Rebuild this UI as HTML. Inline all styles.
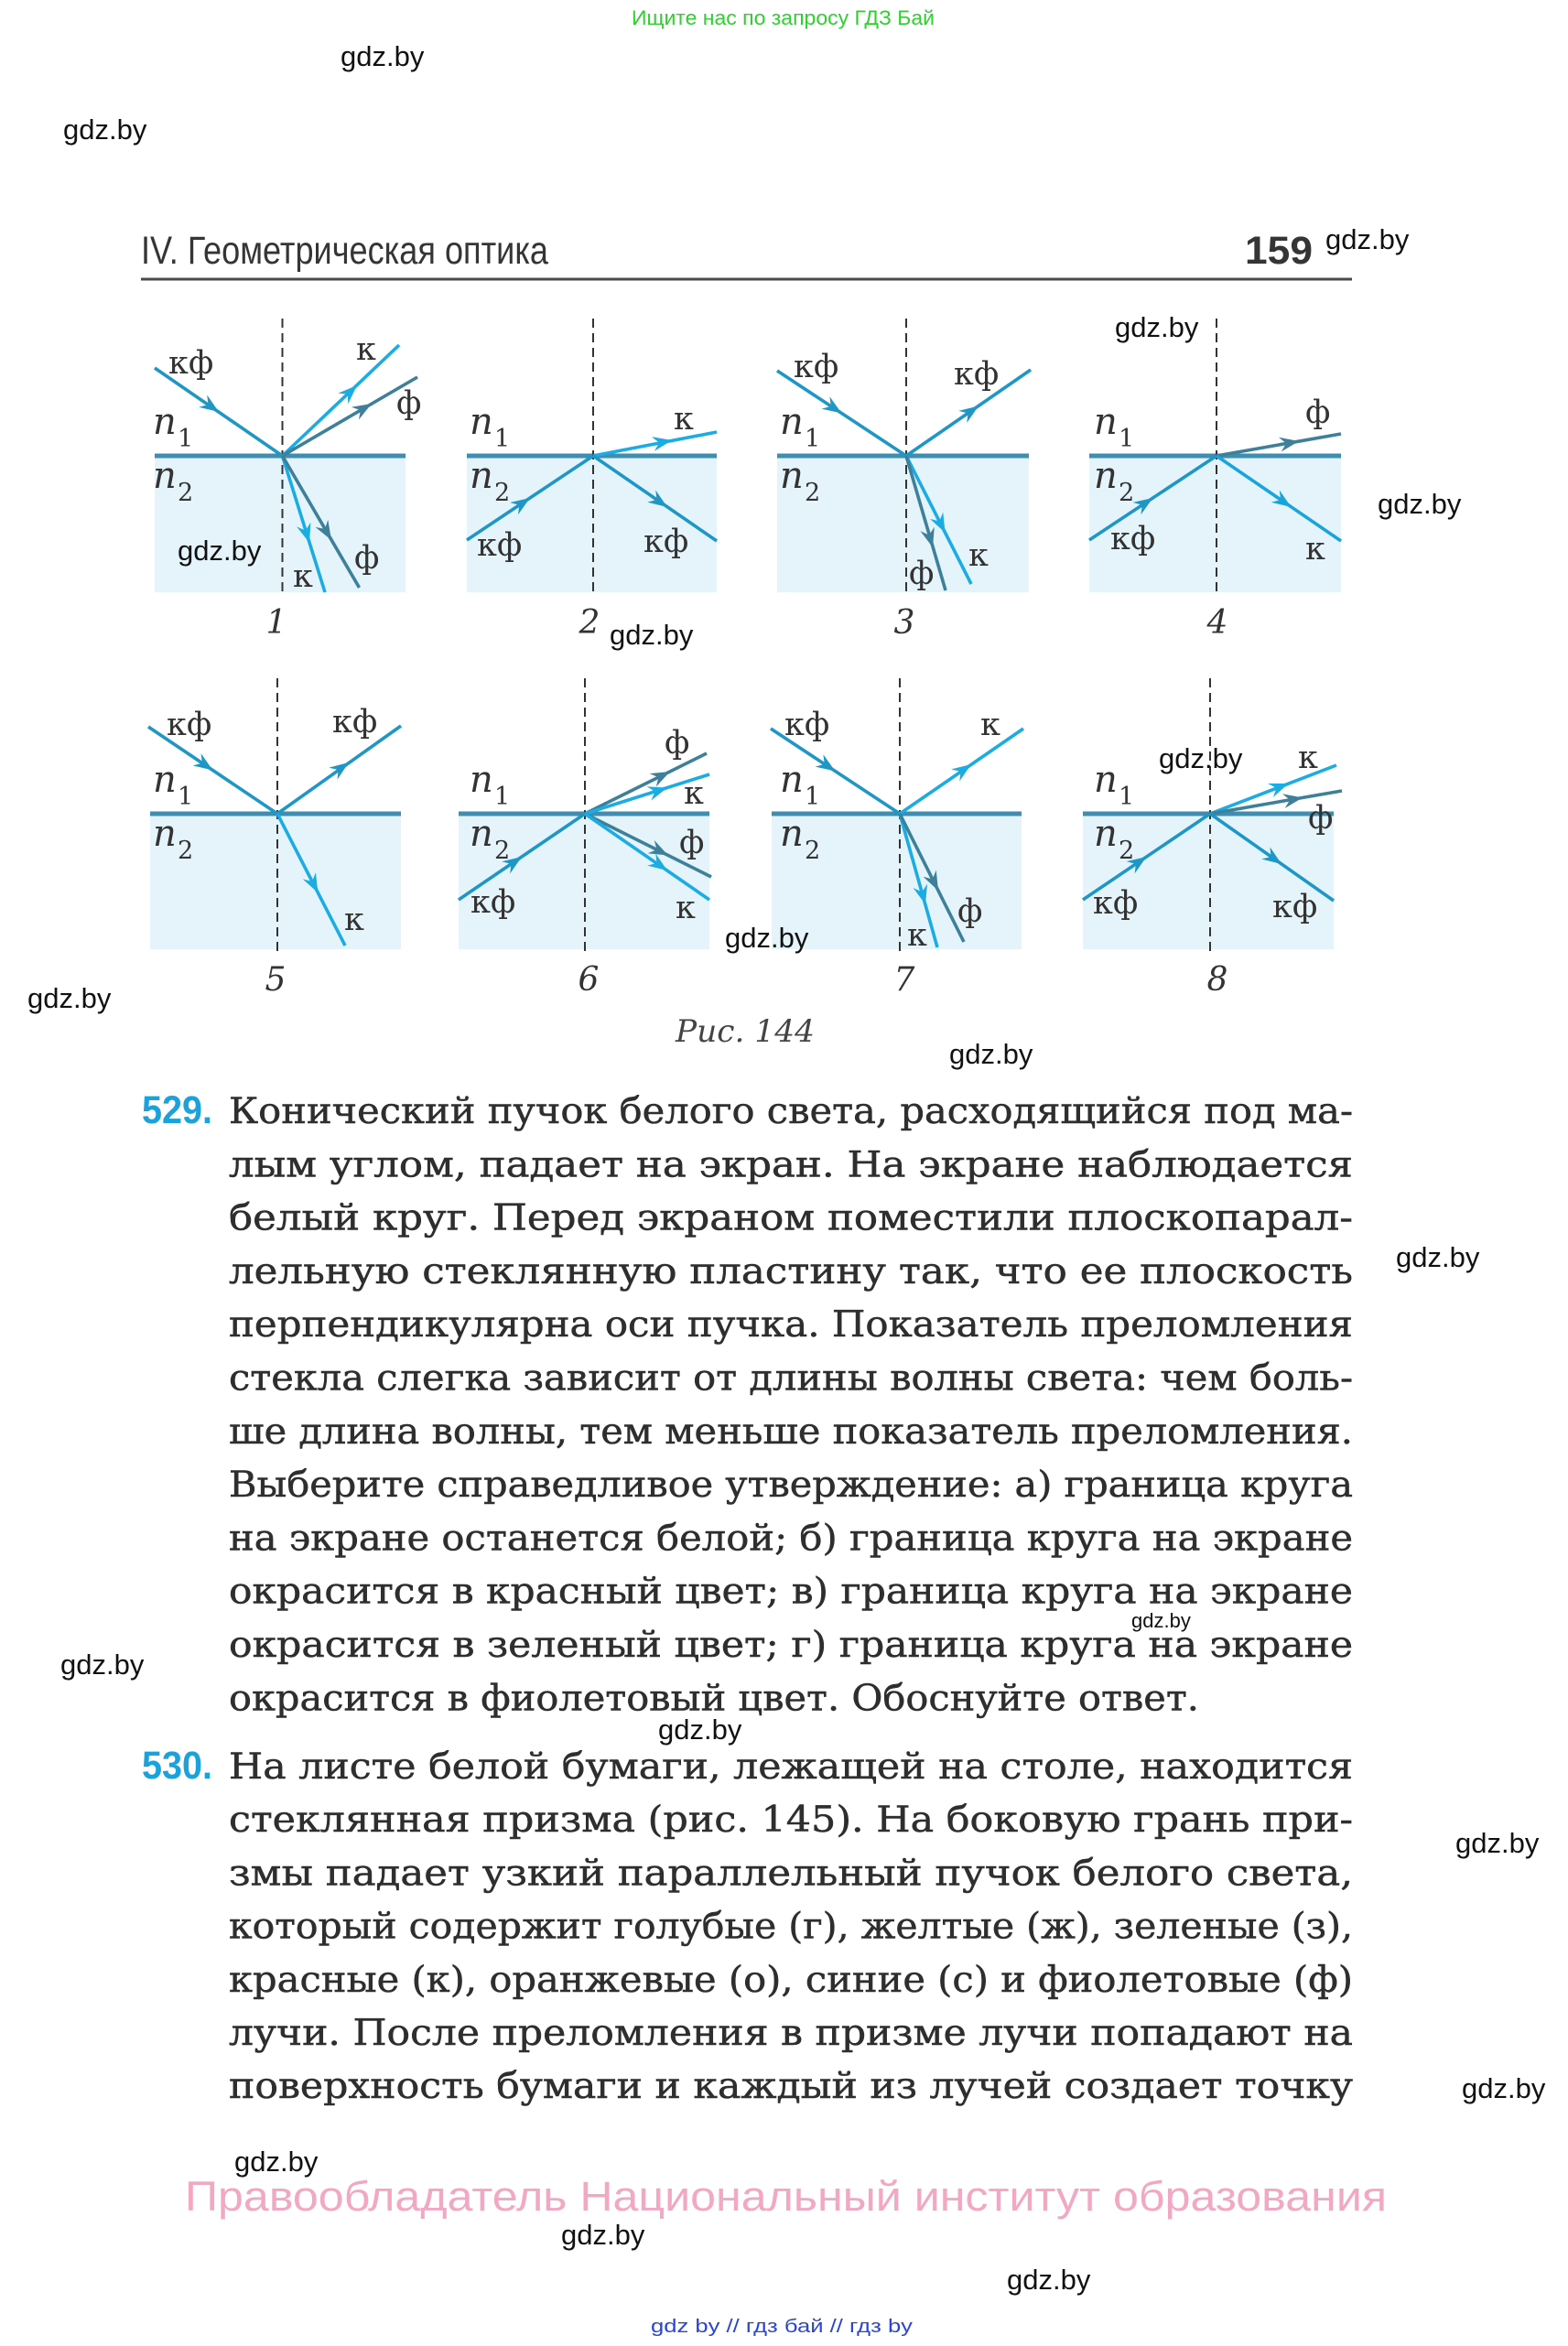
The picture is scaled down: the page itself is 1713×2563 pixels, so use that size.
<!DOCTYPE html>
<html lang="ru">
<head>
<meta charset="utf-8">
<title>IV. Геометрическая оптика — 159</title>
<style>
  html,body{margin:0;padding:0;background:#ffffff;}
  svg{display:block;}
</style>
</head>
<body>
<svg xmlns="http://www.w3.org/2000/svg" xmlns:xlink="http://www.w3.org/1999/xlink" width="1713" height="2563" viewBox="0 0 1713 2563">
  <defs>
    <path id="ah" d="M0,0 L-21,-8 L-14,0 L-21,8 Z"/>
  </defs>
  <rect x="0" y="0" width="1713" height="2563" fill="#ffffff"/>

  <!-- top green banner -->
  <text x="690" y="27" font-family="'Liberation Sans', sans-serif" font-size="22" fill="#2fd02f" textLength="331" lengthAdjust="spacingAndGlyphs">Ищите нас по запросу ГДЗ Бай</text>

  <!-- header -->
  <text x="154" y="288" font-family="'Liberation Sans', sans-serif" font-size="43" fill="#353535" textLength="445" lengthAdjust="spacingAndGlyphs">IV. Геометрическая оптика</text>
  <text x="1360" y="288" font-family="'Liberation Sans', sans-serif" font-size="43" font-weight="bold" fill="#353535" textLength="74" lengthAdjust="spacingAndGlyphs">159</text>
  <line x1="154" y1="305" x2="1477" y2="305" stroke="#4a4a4a" stroke-width="3"/>

  <!-- ============ DIAGRAMS ============ -->
  <g id="panels">
    <g fill="#e5f4fb">
      <rect x="169" y="498" width="274" height="149"/>
      <rect x="510" y="498" width="273" height="149"/>
      <rect x="849" y="498" width="275" height="149"/>
      <rect x="1190" y="498" width="275" height="149"/>
      <rect x="164" y="889" width="274" height="148"/>
      <rect x="501" y="889" width="274" height="148"/>
      <rect x="843" y="889" width="273" height="148"/>
      <rect x="1183" y="889" width="274" height="148"/>
    </g>
    <g stroke="#3f8db0" stroke-width="5">
      <line x1="169" y1="498" x2="443" y2="498"/>
      <line x1="510" y1="498" x2="783" y2="498"/>
      <line x1="849" y1="498" x2="1124" y2="498"/>
      <line x1="1190" y1="498" x2="1465" y2="498"/>
      <line x1="164" y1="889" x2="438" y2="889"/>
      <line x1="501" y1="889" x2="775" y2="889"/>
      <line x1="843" y1="889" x2="1116" y2="889"/>
      <line x1="1183" y1="889" x2="1457" y2="889"/>
    </g>
    <g stroke="#333333" stroke-width="2" stroke-dasharray="10 6">
      <line x1="308.5" y1="348" x2="308.5" y2="651"/>
      <line x1="648" y1="348" x2="648" y2="651"/>
      <line x1="990" y1="348" x2="990" y2="651"/>
      <line x1="1329" y1="348" x2="1329" y2="651"/>
      <line x1="303" y1="741" x2="303" y2="1043"/>
      <line x1="639" y1="741" x2="639" y2="1043"/>
      <line x1="983" y1="741" x2="983" y2="1043"/>
      <line x1="1322" y1="741" x2="1322" y2="1043"/>
    </g>

    <g stroke-width="3.6" fill="none">
      <line x1="169" y1="402" x2="308.5" y2="498" stroke="#1e97c7"/>
      <line x1="308.5" y1="498" x2="436" y2="377" stroke="#1aace3"/>
      <line x1="308.5" y1="498" x2="456" y2="412" stroke="#3e7f9a"/>
      <line x1="308.5" y1="498" x2="355" y2="647" stroke="#1aace3"/>
      <line x1="308.5" y1="498" x2="392.5" y2="642" stroke="#3e7f9a"/>
      <line x1="510" y1="590" x2="648" y2="498" stroke="#1e97c7"/>
      <line x1="648" y1="498" x2="783" y2="472" stroke="#1aace3"/>
      <line x1="648" y1="498" x2="783" y2="591" stroke="#1e97c7"/>
      <line x1="849" y1="405" x2="990" y2="498" stroke="#1e97c7"/>
      <line x1="990" y1="498" x2="1126" y2="404" stroke="#1e97c7"/>
      <line x1="990" y1="498" x2="1061" y2="638" stroke="#1aace3"/>
      <line x1="990" y1="498" x2="1033" y2="645" stroke="#3e7f9a"/>
      <line x1="1190" y1="590" x2="1329" y2="498" stroke="#1e97c7"/>
      <line x1="1329" y1="498" x2="1465" y2="474" stroke="#3e7f9a"/>
      <line x1="1329" y1="498" x2="1465" y2="591" stroke="#1aa4dc"/>
      <line x1="162" y1="794" x2="303" y2="889" stroke="#1e97c7"/>
      <line x1="303" y1="889" x2="438" y2="793" stroke="#1e97c7"/>
      <line x1="303" y1="889" x2="377" y2="1033" stroke="#1aace3"/>
      <line x1="501" y1="983" x2="639" y2="889" stroke="#1e97c7"/>
      <line x1="639" y1="889" x2="772" y2="823" stroke="#3e7f9a"/>
      <line x1="639" y1="889" x2="775" y2="846" stroke="#1aace3"/>
      <line x1="639" y1="889" x2="777" y2="958" stroke="#3e7f9a"/>
      <line x1="639" y1="889" x2="775" y2="983" stroke="#1aace3"/>
      <line x1="842" y1="796" x2="983" y2="889" stroke="#1e97c7"/>
      <line x1="983" y1="889" x2="1118" y2="796" stroke="#1aace3"/>
      <line x1="983" y1="889" x2="1024" y2="1035" stroke="#1aace3"/>
      <line x1="983" y1="889" x2="1053" y2="1029" stroke="#3e7f9a"/>
      <line x1="1183" y1="983" x2="1322" y2="889" stroke="#1e97c7"/>
      <line x1="1322" y1="889" x2="1460" y2="836" stroke="#1aace3"/>
      <line x1="1322" y1="889" x2="1466" y2="864" stroke="#3e7f9a"/>
      <line x1="1322" y1="889" x2="1457" y2="984" stroke="#1e97c7"/>
    </g>

    <g>
      <use xlink:href="#ah" href="#ah" transform="translate(239,450) rotate(34.5)" fill="#1e97c7"/>
      <use xlink:href="#ah" href="#ah" transform="translate(390,421) rotate(-43.5)" fill="#1aace3"/>
      <use xlink:href="#ah" href="#ah" transform="translate(406,441) rotate(-30.3)" fill="#3e7f9a"/>
      <use xlink:href="#ah" href="#ah" transform="translate(338,593) rotate(72.7)" fill="#1aace3"/>
      <use xlink:href="#ah" href="#ah" transform="translate(362,590) rotate(59.7)" fill="#3e7f9a"/>
      <use xlink:href="#ah" href="#ah" transform="translate(579,544) rotate(-33.7)" fill="#1e97c7"/>
      <use xlink:href="#ah" href="#ah" transform="translate(734,481) rotate(-10.9)" fill="#1aace3"/>
      <use xlink:href="#ah" href="#ah" transform="translate(729,554) rotate(34.6)" fill="#1e97c7"/>
      <use xlink:href="#ah" href="#ah" transform="translate(919.5,451.5) rotate(33.4)" fill="#1e97c7"/>
      <use xlink:href="#ah" href="#ah" transform="translate(1069,443.5) rotate(-34.6)" fill="#1e97c7"/>
      <use xlink:href="#ah" href="#ah" transform="translate(1032.6,582) rotate(63.1)" fill="#1aace3"/>
      <use xlink:href="#ah" href="#ah" transform="translate(1019,598) rotate(73.7)" fill="#3e7f9a"/>
      <use xlink:href="#ah" href="#ah" transform="translate(1259.5,544) rotate(-33.5)" fill="#1e97c7"/>
      <use xlink:href="#ah" href="#ah" transform="translate(1419,482) rotate(-10)" fill="#3e7f9a"/>
      <use xlink:href="#ah" href="#ah" transform="translate(1410.6,554) rotate(34.4)" fill="#1aa4dc"/>
      <use xlink:href="#ah" href="#ah" transform="translate(232.5,841.5) rotate(34)" fill="#1e97c7"/>
      <use xlink:href="#ah" href="#ah" transform="translate(381,833) rotate(-35.4)" fill="#1e97c7"/>
      <use xlink:href="#ah" href="#ah" transform="translate(347.4,975.4) rotate(62.8)" fill="#1aace3"/>
      <use xlink:href="#ah" href="#ah" transform="translate(570,936) rotate(-34.3)" fill="#1e97c7"/>
      <use xlink:href="#ah" href="#ah" transform="translate(732,843) rotate(-26.4)" fill="#3e7f9a"/>
      <use xlink:href="#ah" href="#ah" transform="translate(729,860.6) rotate(-17.5)" fill="#1aace3"/>
      <use xlink:href="#ah" href="#ah" transform="translate(730,934.5) rotate(26.6)" fill="#3e7f9a"/>
      <use xlink:href="#ah" href="#ah" transform="translate(729,951) rotate(34.6)" fill="#1aace3"/>
      <use xlink:href="#ah" href="#ah" transform="translate(912.5,842.5) rotate(33.4)" fill="#1e97c7"/>
      <use xlink:href="#ah" href="#ah" transform="translate(1061,835) rotate(-34.6)" fill="#1aace3"/>
      <use xlink:href="#ah" href="#ah" transform="translate(1011,988) rotate(74.3)" fill="#1aace3"/>
      <use xlink:href="#ah" href="#ah" transform="translate(1025,973) rotate(63.4)" fill="#3e7f9a"/>
      <use xlink:href="#ah" href="#ah" transform="translate(1252.5,936) rotate(-34.1)" fill="#1e97c7"/>
      <use xlink:href="#ah" href="#ah" transform="translate(1407.6,856) rotate(-21)" fill="#1aace3"/>
      <use xlink:href="#ah" href="#ah" transform="translate(1423,871.5) rotate(-9.8)" fill="#3e7f9a"/>
      <use xlink:href="#ah" href="#ah" transform="translate(1400,944) rotate(35.1)" fill="#1e97c7"/>
    </g>

    <!-- ray labels -->
    <g font-family="'DejaVu Serif', 'Liberation Serif', serif" font-size="35" fill="#333333">
      <text x="184" y="408">кф</text>
      <text x="389" y="393">к</text>
      <text x="433" y="452">ф</text>
      <text x="320" y="641">к</text>
      <text x="387" y="621">ф</text>
      <text x="521" y="607">кф</text>
      <text x="703" y="603">кф</text>
      <text x="736" y="469">к</text>
      <text x="867" y="412">кф</text>
      <text x="1042" y="420">кф</text>
      <text x="1058" y="618">к</text>
      <text x="993" y="638">ф</text>
      <text x="1426" y="462">ф</text>
      <text x="1213" y="600">кф</text>
      <text x="1426" y="611">к</text>
      <text x="182" y="803">кф</text>
      <text x="363" y="800">кф</text>
      <text x="376" y="1016">к</text>
      <text x="726" y="823">ф</text>
      <text x="747" y="878">к</text>
      <text x="742" y="932">ф</text>
      <text x="738" y="1003">к</text>
      <text x="514" y="997">кф</text>
      <text x="857" y="803">кф</text>
      <text x="1071" y="803">к</text>
      <text x="1046" y="1007">ф</text>
      <text x="991" y="1033">к</text>
      <text x="1418" y="839">к</text>
      <text x="1429" y="905">ф</text>
      <text x="1194" y="998">кф</text>
      <text x="1390" y="1002">кф</text>
    </g>

    <!-- n1 / n2 -->
    <g font-family="'DejaVu Serif', 'Liberation Serif', serif" fill="#333333">
      <g font-style="italic" font-size="40">
        <text x="167" y="474">n</text><text x="167" y="533">n</text>
        <text x="513" y="474">n</text><text x="513" y="533">n</text>
        <text x="852" y="474">n</text><text x="852" y="533">n</text>
        <text x="1195" y="474">n</text><text x="1195" y="533">n</text>
        <text x="167" y="865">n</text><text x="167" y="924">n</text>
        <text x="513" y="865">n</text><text x="513" y="924">n</text>
        <text x="852" y="865">n</text><text x="852" y="924">n</text>
        <text x="1195" y="865">n</text><text x="1195" y="924">n</text>
      </g>
      <g font-size="27">
        <text x="194" y="488">1</text><text x="194" y="547">2</text>
        <text x="540" y="488">1</text><text x="540" y="547">2</text>
        <text x="879" y="488">1</text><text x="879" y="547">2</text>
        <text x="1222" y="488">1</text><text x="1222" y="547">2</text>
        <text x="194" y="879">1</text><text x="194" y="938">2</text>
        <text x="540" y="879">1</text><text x="540" y="938">2</text>
        <text x="879" y="879">1</text><text x="879" y="938">2</text>
        <text x="1222" y="879">1</text><text x="1222" y="938">2</text>
      </g>
    </g>

    <g font-family="'DejaVu Serif', 'Liberation Serif', serif" font-style="italic" font-size="36" fill="#333333" text-anchor="middle">
      <text x="302" y="692">1</text>
      <text x="644" y="692">2</text>
      <text x="988" y="692">3</text>
      <text x="1330" y="692">4</text>
      <text x="301" y="1082">5</text>
      <text x="643" y="1082">6</text>
      <text x="988" y="1082">7</text>
      <text x="1330" y="1082">8</text>
    </g>
    <text x="738" y="1138" font-family="'DejaVu Serif', 'Liberation Serif', serif" font-style="italic" font-size="34" fill="#444444" textLength="152" lengthAdjust="spacingAndGlyphs">Рис. 144</text>
  </g>

  <!-- ============ TEXT 529 ============ -->
  <text x="155" y="1227" font-family="'Liberation Sans', sans-serif" font-weight="bold" font-size="43" fill="#1ba1dc" textLength="77" lengthAdjust="spacingAndGlyphs">529.</text>
  <g font-family="'DejaVu Serif', 'Liberation Serif', serif" font-size="39" fill="#2e2e2e" stroke="#2e2e2e" stroke-width="0.5">
    <text x="250" y="1227" textLength="1228" lengthAdjust="spacingAndGlyphs">Конический пучок белого света, расходящийся под ма-</text>
    <text x="250" y="1285.3" textLength="1228" lengthAdjust="spacingAndGlyphs">лым углом, падает на экран. На экране наблюдается</text>
    <text x="250" y="1343.6" textLength="1228" lengthAdjust="spacingAndGlyphs">белый круг. Перед экраном поместили плоскопарал-</text>
    <text x="250" y="1401.9" textLength="1228" lengthAdjust="spacingAndGlyphs">лельную стеклянную пластину так, что ее плоскость</text>
    <text x="250" y="1460.2" textLength="1228" lengthAdjust="spacingAndGlyphs">перпендикулярна оси пучка. Показатель преломления</text>
    <text x="250" y="1518.5" textLength="1228" lengthAdjust="spacingAndGlyphs">стекла слегка зависит от длины волны света: чем боль-</text>
    <text x="250" y="1576.8" textLength="1228" lengthAdjust="spacingAndGlyphs">ше длина волны, тем меньше показатель преломления.</text>
    <text x="250" y="1635.1" textLength="1228" lengthAdjust="spacingAndGlyphs">Выберите справедливое утверждение: а) граница круга</text>
    <text x="250" y="1693.4" textLength="1228" lengthAdjust="spacingAndGlyphs">на экране останется белой; б) граница круга на экране</text>
    <text x="250" y="1751.7" textLength="1228" lengthAdjust="spacingAndGlyphs">окрасится в красный цвет; в) граница круга на экране</text>
    <text x="250" y="1810" textLength="1228" lengthAdjust="spacingAndGlyphs">окрасится в зеленый цвет; г) граница круга на экране</text>
    <text x="250" y="1868.3" textLength="1060" lengthAdjust="spacingAndGlyphs">окрасится в фиолетовый цвет. Обоснуйте ответ.</text>
  </g>

  <!-- ============ TEXT 530 ============ -->
  <text x="155" y="1943" font-family="'Liberation Sans', sans-serif" font-weight="bold" font-size="43" fill="#1ba1dc" textLength="77" lengthAdjust="spacingAndGlyphs">530.</text>
  <g font-family="'DejaVu Serif', 'Liberation Serif', serif" font-size="39" fill="#2e2e2e" stroke="#2e2e2e" stroke-width="0.5">
    <text x="250" y="1943" textLength="1228" lengthAdjust="spacingAndGlyphs">На листе белой бумаги, лежащей на столе, находится</text>
    <text x="250" y="2001.2" textLength="1228" lengthAdjust="spacingAndGlyphs">стеклянная призма (рис. 145). На боковую грань при-</text>
    <text x="250" y="2059.4" textLength="1228" lengthAdjust="spacingAndGlyphs">змы падает узкий параллельный пучок белого света,</text>
    <text x="250" y="2117.6" textLength="1228" lengthAdjust="spacingAndGlyphs">который содержит голубые (г), желтые (ж), зеленые (з),</text>
    <text x="250" y="2175.8" textLength="1228" lengthAdjust="spacingAndGlyphs">красные (к), оранжевые (о), синие (с) и фиолетовые (ф)</text>
    <text x="250" y="2234" textLength="1228" lengthAdjust="spacingAndGlyphs">лучи. После преломления в призме лучи попадают на</text>
    <text x="250" y="2292.2" textLength="1228" lengthAdjust="spacingAndGlyphs">поверхность бумаги и каждый из лучей создает точку</text>
  </g>

  <!-- pink footer -->
  <text x="202" y="2415" font-family="'Liberation Sans', sans-serif" font-size="45" fill="#f2a8c2" textLength="1313" lengthAdjust="spacingAndGlyphs">Правообладатель Национальный институт образования</text>

  <!-- bottom blue line -->
  <text x="711" y="2548" font-family="'Liberation Sans', sans-serif" font-size="20" fill="#2a45d8" textLength="286" lengthAdjust="spacingAndGlyphs">gdz by  //  гдз бай  //  гдз by</text>

  <!-- watermarks -->
  <g font-family="'Liberation Sans', sans-serif" font-size="31" fill="#111111">
    <text x="372" y="72">gdz.by</text>
    <text x="69" y="152">gdz.by</text>
    <text x="1448" y="272">gdz.by</text>
    <text x="1218" y="368">gdz.by</text>
    <text x="1505" y="561">gdz.by</text>
    <text x="194" y="612">gdz.by</text>
    <text x="666" y="704">gdz.by</text>
    <text x="30" y="1101">gdz.by</text>
    <text x="1266" y="839">gdz.by</text>
    <text x="792" y="1035">gdz.by</text>
    <text x="1037" y="1162">gdz.by</text>
    <text x="1525" y="1384">gdz.by</text>
    <text x="66" y="1829">gdz.by</text>
    <text x="719" y="1900">gdz.by</text>
    <text x="1590" y="2024">gdz.by</text>
    <text x="1597" y="2292">gdz.by</text>
    <text x="256" y="2372">gdz.by</text>
    <text x="613" y="2452">gdz.by</text>
    <text x="1100" y="2501">gdz.by</text>
  </g>
  <text x="1236" y="1778" font-family="'Liberation Sans', sans-serif" font-size="22" fill="#111111">gdz.by</text>
</svg>
</body>
</html>
